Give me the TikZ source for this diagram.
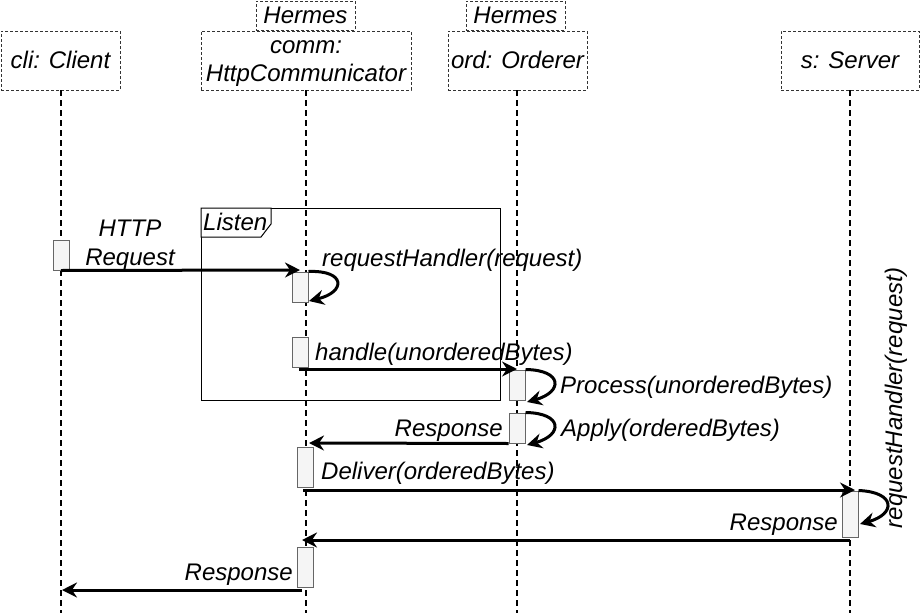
\documentclass[tikz,border=0pt]{standalone}
\usepackage{fontspec}
\setmainfont{Liberation Sans}
\usetikzlibrary{arrows.meta,calc}
\definecolor{actfill}{HTML}{F5F5F5}
\definecolor{actdraw}{HTML}{666666}
\definecolor{hdrdraw}{HTML}{333333}
\begin{document}
\begin{tikzpicture}[x=1pt,y=-1pt,
  txt/.style={font=\fontsize{24}{28.5}\selectfont\itshape, inner sep=0pt},
  hdr/.style={draw=hdrdraw, line width=0.8pt, dash pattern=on 3pt off 2pt, inner sep=0pt,
              font=\fontsize{24}{28.5}\selectfont\itshape, align=center,
              text height=19.6pt, text depth=4pt},
  lifeline/.style={line width=1.5pt, dash pattern=on 6pt off 4pt},
  act/.style={draw=actdraw, fill=actfill, line width=1pt, minimum width=16pt, inner sep=0pt},
  msg/.style={line width=3pt, -{Stealth[length=15pt,width=15pt,inset=5pt]}},
  frame/.style={draw=black, line width=1pt},
]
\useasboundingbox (0,0) rectangle (921,613);

% headers
\node[hdr, minimum width=119pt, minimum height=59pt] (cli) at (60.5,60.5) {cli: Client};
\node[hdr, minimum width=210pt, minimum height=59pt, text height=46.4pt, text depth=4pt] (comm) at (306,60.5) {comm:\\HttpCommunicator};
\node[hdr, minimum width=139pt, minimum height=59pt] (ord) at (517.5,60.5) {ord: Orderer};
\node[hdr, minimum width=138pt, minimum height=59pt] (srv) at (850,60.5) {s: Server};
\node[hdr, minimum width=99pt, minimum height=29pt] (st1) at (305.5,15.5) {Hermes};
\node[hdr, minimum width=99pt, minimum height=29pt] (st2) at (515.5,15.5) {Hermes};

% lifelines
\coordinate (cliend) at (61,613);
\coordinate (commend) at (306,613);
\coordinate (ordend) at (517,613);
\coordinate (srvend) at (850,613);
\draw[lifeline] (cli.south -| cliend) -- (cliend);
\draw[lifeline] (comm.south -| commend) -- (commend);
\draw[lifeline] (ord.south -| ordend) -- (ordend);
\draw[lifeline] (srv.south -| srvend) -- (srvend);

% frame
\draw[frame] (201,208) rectangle (500,400);
\draw[frame, fill=white] (201,208) -- (271,208) -- (271,224) -- (261,237) -- (201,237) -- cycle;
\node[txt, anchor=base west] (listen) at (203,230.5) {Listen};

% activations
\node[act, minimum height=30pt] (a1) at (61,255) {};
\node[act, minimum height=30pt] (a2) at (300,287) {};
\node[act, minimum height=30pt] (a3) at (300,352) {};
\node[act, minimum height=30pt] (a4) at (517,385) {};
\node[act, minimum height=30pt] (a5) at (517,428) {};
\node[act, minimum height=40pt] (a6) at (305,467) {};
\node[act, minimum height=46pt] (a7) at (850,514) {};
\node[act, minimum height=40pt] (a8) at (305,567) {};

% messages
\coordinate (m1e) at (300,270);
\draw[msg] (a1.south) -- (m1e);
\node[txt, align=center, anchor=base] (l1) at (130,265) {HTTP\\Request};

\draw[msg] (a2.north east) .. controls (346,270) and (346,292) .. (309,301);
\node[txt, anchor=base west] (l2) at (322,266) {requestHandler(request)};

\coordinate (m3s) at (299,369);
\coordinate (m3e) at (517,369);
\draw[msg] (m3s) -- (m3e);
\node[txt, anchor=base west] (l3) at (315,360) {handle(unorderedBytes)};

\draw[msg] (a4.north east) .. controls (563,370) and (563,392) .. (527,402);
\node[txt, anchor=base west] (l4) at (560,393) {Process(unorderedBytes)};

\draw[msg] (a5.north east) .. controls (563,413) and (563,435) .. (527,445);
\node[txt, anchor=base west] (l5) at (561,436) {Apply(orderedBytes)};

\coordinate (m6e) at (309,443);
\draw[msg] (a5.south west) -- (m6e);
\node[txt, anchor=base east] (l6) at (503,436) {Response};

\coordinate (m7s) at (303,490);
\coordinate (m7e) at (855,490);
\draw[msg] (m7s) -- (m7e);
\node[txt, anchor=base west] (l7) at (321,479) {Deliver(orderedBytes)};

\draw[msg] (a7.north east) .. controls (896,492) and (896,514) .. (860,524);
\node[txt, rotate=90, anchor=base] (l8) at (902,398) {requestHandler(request)};

\coordinate (m9s) at (850,540);
\coordinate (m9e) at (302,540);
\draw[msg] (m9s) -- (m9e);
\node[txt, anchor=base east] (l9) at (838,530) {Response};

\coordinate (m10s) at (302,590);
\coordinate (m10e) at (62,590);
\draw[msg] (m10s) -- (m10e);
\node[txt, anchor=base east] (l10) at (293,580) {Response};
\end{tikzpicture}
\end{document}
